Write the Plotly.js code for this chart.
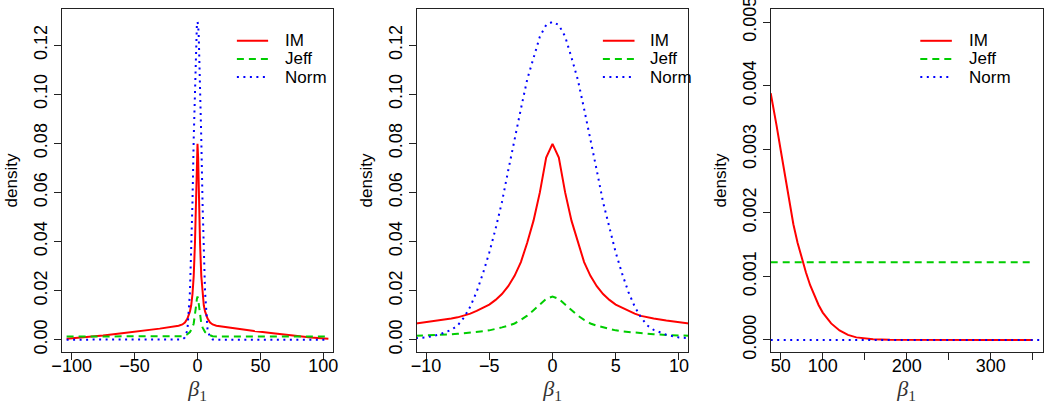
<!DOCTYPE html>
<html>
<head>
<meta charset="utf-8">
<script src="https://cdn.plot.ly/plotly-3.0.1.min.js"></script>
<style>html,body{margin:0;padding:0;background:#fff;}#chart{width:1050px;height:407px;}</style>
</head>
<body>
<div id="chart"></div>
<script>
// ---------- data ----------
const legendLabels = ['IM', 'Jeff', 'Norm'];

// Panel 1: wide view
const p1x    = [-104,-90,-75,-60,-45,-30,-15,-12,-10,-8,-6,-5,-4,-3,-2,-1.5,-1,-0.5,0,0.5,1,1.5,2,3,4,5,6,8,10,12,15,30,45,60,75,90,104];
const p1IM   = [0.0004,0.0009,0.0017,0.0026,0.0035,0.0045,0.0057,0.0062,0.0070,0.0086,0.0115,0.0140,0.0185,0.0260,0.0395,0.0485,0.0600,0.0742,0.0798,0.0742,0.0600,0.0485,0.0395,0.0260,0.0185,0.0140,0.0115,0.0086,0.0070,0.0062,0.0057,0.0045,0.0035,0.0026,0.0017,0.0009,0.0004];
const p1Jeff = [0.0013,0.0013,0.0013,0.0013,0.0013,0.0013,0.0013,0.0014,0.0017,0.0022,0.0031,0.0038,0.0050,0.0066,0.0098,0.0120,0.0143,0.0166,0.0176,0.0166,0.0143,0.0120,0.0098,0.0066,0.0050,0.0038,0.0031,0.0022,0.0017,0.0014,0.0013,0.0013,0.0013,0.0013,0.0013,0.0013,0.0013];
const p1Norm = [0,0,0,0,0,0,0,0.0001,0.0009,0.0040,0.0195,0.0355,0.0560,0.0820,0.1060,0.1150,0.1235,0.1282,0.1295,0.1282,0.1235,0.1150,0.1060,0.0820,0.0560,0.0355,0.0195,0.0040,0.0009,0.0001,0,0,0,0,0,0,0];

// Panel 2: zoom on the centre
const p2x    = [-10.8,-10,-9,-8,-7.5,-7,-6.5,-6,-5.5,-5,-4.5,-4,-3.5,-3,-2.5,-2,-1.5,-1,-0.5,0,0.5,1,1.5,2,2.5,3,3.5,4,4.5,5,5.5,6,6.5,7,7.5,8,9,10,10.8];
const p2IM   = [0.0066,0.0071,0.0078,0.0086,0.0091,0.0097,0.0106,0.0117,0.0130,0.0143,0.0162,0.0186,0.0218,0.0260,0.0316,0.0395,0.0485,0.0600,0.0742,0.0798,0.0742,0.0600,0.0485,0.0395,0.0316,0.0260,0.0218,0.0186,0.0162,0.0143,0.0130,0.0117,0.0106,0.0097,0.0091,0.0086,0.0078,0.0071,0.0066];
const p2Jeff = [0.0016,0.0017,0.0019,0.0022,0.0024,0.0026,0.0028,0.0031,0.0034,0.0038,0.0043,0.0050,0.0057,0.0066,0.0081,0.0098,0.0120,0.0143,0.0166,0.0176,0.0166,0.0143,0.0120,0.0098,0.0081,0.0066,0.0057,0.0050,0.0043,0.0038,0.0034,0.0031,0.0028,0.0026,0.0024,0.0022,0.0019,0.0017,0.0016];
const p2Norm = [0.0006,0.0009,0.0020,0.0040,0.0058,0.0090,0.0135,0.0195,0.0270,0.0355,0.0452,0.0560,0.0690,0.0820,0.0940,0.1060,0.1150,0.1235,0.1282,0.1295,0.1282,0.1235,0.1150,0.1060,0.0940,0.0820,0.0690,0.0560,0.0452,0.0355,0.0270,0.0195,0.0135,0.0090,0.0058,0.0040,0.0020,0.0009,0.0006];

// Panel 3: right tail
const p3x     = [38,40,45,50,55,60,65,70,75,80,85,90,95,100,110,120,130,140,150,160,180,200,250,300,350];
const p3IM    = [0.00388,0.00375,0.00337,0.00298,0.00258,0.00218,0.00182,0.00153,0.00129,0.00106,0.00086,0.00069,0.00055,0.00043,0.00026,0.00015,0.00008,0.00004,0.00002,0.00001,0.000003,0.000001,0,0,0];
const p3Jeff  = [0.00122,0.00122,0.00122,0.00122,0.00122,0.00122,0.00122,0.00122,0.00122,0.00122,0.00122,0.00122,0.00122,0.00122,0.00122,0.00122,0.00122,0.00122,0.00122,0.00122,0.00122,0.00122,0.00122,0.00122,0.00122];
const p3xNorm = [38, 362];
const p3Norm  = [0, 0];

// Tick positions / labels
const p1Ticks = [-100,-50,0,50,100];
const p2Ticks = [-10,-5,0,5,10];
const p3Ticks = [50,100,200,300];          // labelled ticks
const p3MinorTicks = [150,250,350];        // unlabelled ticks (labels dropped by R)
const yTicks12 = [0,0.02,0.04,0.06,0.08,0.10,0.12];
const yTicks3 = [0,0.001,0.002,0.003,0.004,0.005];

// ---------- styles ----------
const colors = ['#FF0000', '#00CD00', '#0000FF'];
const dashes = ['solid', '7px,5px', '2px,4.5px'];
const FONT = 'Liberation Sans, Arial, Helvetica, sans-serif';

function tr(x, y, i, ax) {
  return {x: x, y: y, type: 'scatter', mode: 'lines', name: legendLabels[i],
    xaxis: 'x' + ax, yaxis: 'y' + ax, showlegend: false,
    line: {color: colors[i], width: 2, dash: dashes[i]}, hoverinfo: 'x+y'};
}

const data = [
  tr(p1x, p1IM, 0, ''), tr(p1x, p1Jeff, 1, ''), tr(p1x, p1Norm, 2, ''),
  tr(p2x, p2IM, 0, '2'), tr(p2x, p2Jeff, 1, '2'), tr(p2x, p2Norm, 2, '2'),
  tr(p3x, p3IM, 0, '3'), tr(p3x, p3Jeff, 1, '3'), tr(p3xNorm, p3Norm, 2, '3')
];

const W = 1050, H = 407;
const yDom = [(H - 351.7) / H, (H - 9.3) / H];
const xDoms = [[61.7 / W, 333.3 / W], [416.7 / W, 688.3 / W], [770.7 / W, 1042.7 / W]];

function xax(dom, range, tickvals, minorvals, anchor) {
  const a = {domain: dom, range: range, anchor: anchor, tickmode: 'array', tickvals: tickvals,
    showline: true, mirror: true, linecolor: '#222', linewidth: 1,
    ticks: 'outside', ticklen: 7, tickwidth: 1, tickcolor: '#222', ticklabelstandoff: -9,
    showgrid: false, zeroline: false, tickfont: {family: FONT, size: 18, color: '#000'},
    title: {text: '<i>β</i><sub>1</sub>', font: {family: 'Liberation Serif, DejaVu Serif, serif', size: 22, color: '#333'}, standoff: 1}};
  if (minorvals) a.minor = {tickmode: 'array', tickvals: minorvals, ticks: 'outside', ticklen: 7, tickwidth: 1, tickcolor: '#222', showgrid: false};
  return a;
}
function yax(range, tickvals, fmt, anchor) {
  return {domain: yDom, range: range, anchor: anchor, tickmode: 'array', tickvals: tickvals,
    tickformat: fmt, tickangle: -90, ticklabeloverflow: 'allow',
    showline: true, mirror: true, linecolor: '#222', linewidth: 1,
    ticks: 'outside', ticklen: 7, tickwidth: 1, tickcolor: '#222',
    showgrid: false, zeroline: false, tickfont: {family: FONT, size: 18, color: '#000'},
    title: {text: 'density', font: {family: FONT, size: 17, color: '#000'}, standoff: 8}};
}

// Manual legends (R style, compact rows)
const legendPos = [
  {x0: 0.645, x1: 0.760, xt: 0.816},
  {x0: 0.6855, x1: 0.802, xt: 0.8523},
  {x0: 0.550, x1: 0.666, xt: 0.7206}
];
const legendRowsY = [0.908, 0.855, 0.802];
const shapes = [], annotations = [];
['', '2', '3'].forEach(function (ax, p) {
  legendLabels.forEach(function (lab, i) {
    shapes.push({type: 'line', xref: 'x' + ax + ' domain', yref: 'y' + ax + ' domain',
      x0: legendPos[p].x0, x1: legendPos[p].x1, y0: legendRowsY[i], y1: legendRowsY[i],
      line: {color: colors[i], width: 2, dash: dashes[i]}});
    annotations.push({xref: 'x' + ax + ' domain', yref: 'y' + ax + ' domain',
      x: legendPos[p].xt, y: legendRowsY[i], xanchor: 'left', yanchor: 'middle',
      text: lab, showarrow: false, font: {family: FONT, size: 17, color: '#000'}});
  });
});

const layout = {
  width: W, height: H, margin: {l: 0, r: 0, t: 0, b: 0},
  paper_bgcolor: '#fff', plot_bgcolor: '#fff', showlegend: false,
  font: {family: FONT, size: 17, color: '#000'},
  xaxis:  xax(xDoms[0], [-107.9, 107.9], p1Ticks, null, 'y'),
  yaxis:  yax([-0.0049, 0.1346], yTicks12, '.2f', 'x'),
  xaxis2: xax(xDoms[1], [-10.74, 10.74], p2Ticks, null, 'y2'),
  yaxis2: yax([-0.0049, 0.1346], yTicks12, '.2f', 'x2'),
  xaxis3: xax(xDoms[2], [38, 362], p3Ticks, p3MinorTicks, 'y3'),
  yaxis3: yax([-0.000185, 0.0052], yTicks3, '.3f', 'x3'),
  shapes: shapes, annotations: annotations
};

Plotly.newPlot('chart', data, layout, {staticPlot: true, displayModeBar: false});
</script>
</body>
</html>
